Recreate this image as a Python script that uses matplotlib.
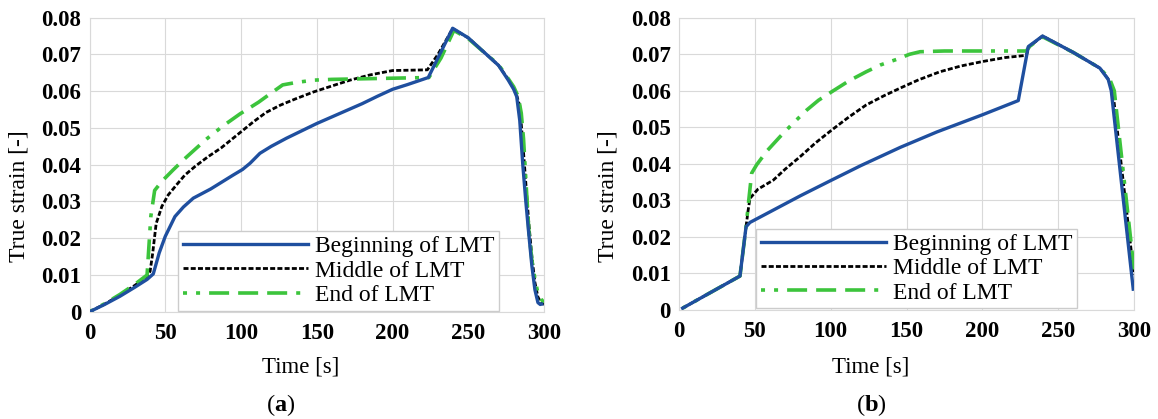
import matplotlib
matplotlib.use("Agg")
import matplotlib.pyplot as plt
from matplotlib.ticker import FuncFormatter, MultipleLocator

plt.rcParams["font.family"] = ["Liberation Serif", "DejaVu Serif"]
plt.rcParams["mathtext.fontset"] = "custom"
plt.rcParams["mathtext.rm"] = "Liberation Serif"
plt.rcParams["mathtext.bf"] = "Liberation Serif:bold"
plt.rcParams["lines.scale_dashes"] = False

W, H = 1158, 419

# ---- data (a) ----
t_a_begin = [0, 10, 20, 30, 38, 42.1, 46, 50, 56.4, 62, 68.5, 80, 94.9, 101, 106, 112.5,
             120, 130, 140, 150, 160, 170, 180, 190, 200, 210, 223.6, 239.7, 250, 262,
             270, 276.4, 280, 282, 284, 286, 288, 290, 292, 294, 296, 297.5, 298.5]
e_a_begin = [0, 0.002, 0.0042, 0.0067, 0.0088, 0.0103, 0.016, 0.0205, 0.0259, 0.0285, 0.0309,
             0.0334, 0.0372, 0.0387, 0.0404, 0.0431, 0.0450, 0.0472, 0.0492, 0.0512, 0.0530,
             0.0548, 0.0566, 0.0586, 0.0605, 0.0618, 0.0637, 0.0771, 0.0745, 0.0700,
             0.0670, 0.0630, 0.0605, 0.0585, 0.0520, 0.0400, 0.0300, 0.0210, 0.0125,
             0.0060, 0.0025, 0.0020, 0.0021]

t_a_mid = [0, 10, 20, 30, 38, 40, 41.7, 44, 47.8, 52, 57.6, 63, 69.9, 78, 87, 99.3, 108,
           116.5, 126, 136, 148, 160.7, 172, 185, 200, 212, 223, 230, 239.7, 250, 262, 270,
           276.4, 280, 282, 284, 286, 288, 290, 292, 294, 296, 298, 300]
e_a_mid = [0, 0.0021, 0.0045, 0.0072, 0.0096, 0.0110, 0.0159, 0.0240, 0.0287, 0.0318, 0.0346,
           0.0372, 0.0396, 0.0421, 0.0446, 0.0487, 0.0516, 0.0542, 0.0562, 0.0579, 0.0598,
           0.0615, 0.0630, 0.0644, 0.0656, 0.0657, 0.0658, 0.0700, 0.0770, 0.0745, 0.0700,
           0.0670, 0.0632, 0.0607, 0.0588, 0.0560, 0.0460, 0.0350, 0.0240, 0.0150, 0.0080,
           0.0040, 0.0025, 0.0020]

t_a_end = [0, 10, 20, 30, 38, 40.5, 43, 47.8, 55, 62.5, 70, 77.3, 88, 99.3, 111.6, 120,
           127.5, 137, 148.4, 160, 173, 185, 197.4, 210, 224, 232, 240.5, 250, 262, 270, 276.4,
           280, 283, 285, 286.5, 288, 290, 292, 294, 296, 298, 300]
e_a_end = [0, 0.0022, 0.0047, 0.0075, 0.0100, 0.0260, 0.0330, 0.0355, 0.0385, 0.0415, 0.0443,
           0.0470, 0.0505, 0.0538, 0.0570, 0.0595, 0.0617, 0.0624, 0.0630, 0.0632, 0.0633,
           0.0634, 0.0635, 0.0636, 0.0637, 0.0690, 0.0765, 0.0743, 0.0700, 0.0672, 0.0634,
           0.0612, 0.0585, 0.0540, 0.0470, 0.0360, 0.0220, 0.0140, 0.0090, 0.0050, 0.0035,
           0.0025]

# ---- data (b) ----
t_b_begin = [2.4, 40.2, 44.2, 46.8, 60, 80, 100.6, 120, 146, 170, 200, 223.7, 230.3, 239.7,
             260, 277.5, 283, 285, 299.5]
e_b_begin = [0.0004, 0.0092, 0.0227, 0.0239, 0.0268, 0.0312, 0.0355, 0.0395, 0.0445, 0.0487,
             0.0534, 0.0573, 0.0721, 0.0750, 0.0705, 0.0662, 0.0631, 0.0600, 0.0056]

t_b_mid = [2.4, 40.2, 44.2, 45.5, 46.8, 52, 62.2, 70, 79.8, 90, 100.6, 112, 123.4, 135, 145.7,
           158, 172, 186, 200, 215, 228.9, 231, 239.7, 260, 277.5, 283, 286, 300]
e_b_mid = [0.0004, 0.0092, 0.0227, 0.0270, 0.0305, 0.0330, 0.0355, 0.0385, 0.0419, 0.0457,
           0.0492, 0.0528, 0.0561, 0.0586, 0.0607, 0.0630, 0.0652, 0.0668, 0.0680, 0.0691,
           0.0697, 0.0721, 0.0750, 0.0705, 0.0662, 0.0632, 0.0600, 0.0095]

t_b_end = [2.4, 40.2, 44.2, 46, 47.9, 51.2, 58, 66.6, 75, 84.2, 92, 100.6, 112, 123.4, 133,
           143.5, 152, 159, 175, 200, 229, 231, 239.7, 260, 277.5, 284, 287, 300]
e_b_end = [0.0004, 0.0092, 0.0227, 0.0300, 0.0374, 0.0397, 0.0435, 0.0474, 0.0510, 0.0547,
           0.0574, 0.0597, 0.0627, 0.0652, 0.0671, 0.0686, 0.0700, 0.0707, 0.0709, 0.0709,
           0.0709, 0.0721, 0.0748, 0.0705, 0.0662, 0.0632, 0.0600, 0.0110]

labels = ["Beginning of LMT", "Middle of LMT", "End of LMT"]
x_ticks = [0, 50, 100, 150, 200, 250, 300]

BLUE = "#1f4f9f"
GREEN = "#3cc43c"
GRID = "#d9d9d9"


def px_box(x0, x1, y_top, y_bot):
    return [x0 / W, 1 - y_bot / H, (x1 - x0) / W, (y_bot - y_top) / H]


def style_axes(ax):
    ax.set_xlim(0, 300)
    ax.set_ylim(0, 0.08)
    ax.set_xticks(x_ticks)
    ax.yaxis.set_major_locator(MultipleLocator(0.01))
    ax.yaxis.set_major_formatter(FuncFormatter(lambda v, p: "0" if abs(v) < 1e-9 else f"{v:.2f}"))
    ax.grid(True, color=GRID, lw=0.8)
    ax.set_axisbelow(True)
    for s in ax.spines.values():
        s.set_color(GRID)
        s.set_linewidth(0.8)
    ax.tick_params(axis="both", length=0, labelsize=16.5)
    ax.tick_params(axis="x", pad=8)
    ax.tick_params(axis="y", pad=6)
    for lab in ax.get_xticklabels() + ax.get_yticklabels():
        lab.set_fontweight("bold")


def draw(ax, tb, eb, tm, em, te, ee, legend_x):
    ax.plot(tb, eb, color=BLUE, lw=2.4, label=labels[0], zorder=4)
    ax.plot(tm, em, color="black", lw=2.0, dashes=(3.6, 1.6), label=labels[1], zorder=3)
    ax.plot(te, ee, color=GREEN, lw=2.6,
            dashes=(2.9, 6.5, 2.9, 6.5, 14.4, 6.5, 14.4, 6.5, 14.4, 6.5),
            label=labels[2], zorder=3)
    style_axes(ax)
    leg = ax.legend(loc="lower left", bbox_to_anchor=(legend_x, 0.004), borderaxespad=0,
                    fontsize=17, handlelength=5.3, handletextpad=0.3, borderpad=0.2,
                    labelspacing=0.12, fancybox=False, framealpha=1, edgecolor="#cccccc")
    leg.get_frame().set_linewidth(1.0)
    leg.set_zorder(5)


fig = plt.figure(figsize=(W / 100, H / 100), dpi=100)

ax1 = fig.add_axes(px_box(89.5, 544, 17.6, 311.8))
draw(ax1, t_a_begin, e_a_begin, t_a_mid, e_a_mid, t_a_end, e_a_end, 0.195)

ax2 = fig.add_axes(px_box(679, 1134, 17.8, 309.6))
draw(ax2, t_b_begin, e_b_begin, t_b_mid, e_b_mid, t_b_end, e_b_end, 0.169)

# axis titles and panel captions
for xl, xt, xc, tag in [(19, 301, 281, "a"), (608, 871, 871, "b")]:
    fig.text(xl / W, 1 - 196 / H, "True strain [-]", rotation=90, fontsize=17,
             ha="center", va="center")
    fig.text(xt / W, 1 - 367 / H, "Time [s]", fontsize=16.5, ha="center", va="center")
    fig.text(xc / W, 1 - 405 / H, f"(${{\\bf {tag}}}$)", fontsize=17.5, ha="center", va="center")

fig.savefig("out.png", dpi=100)
